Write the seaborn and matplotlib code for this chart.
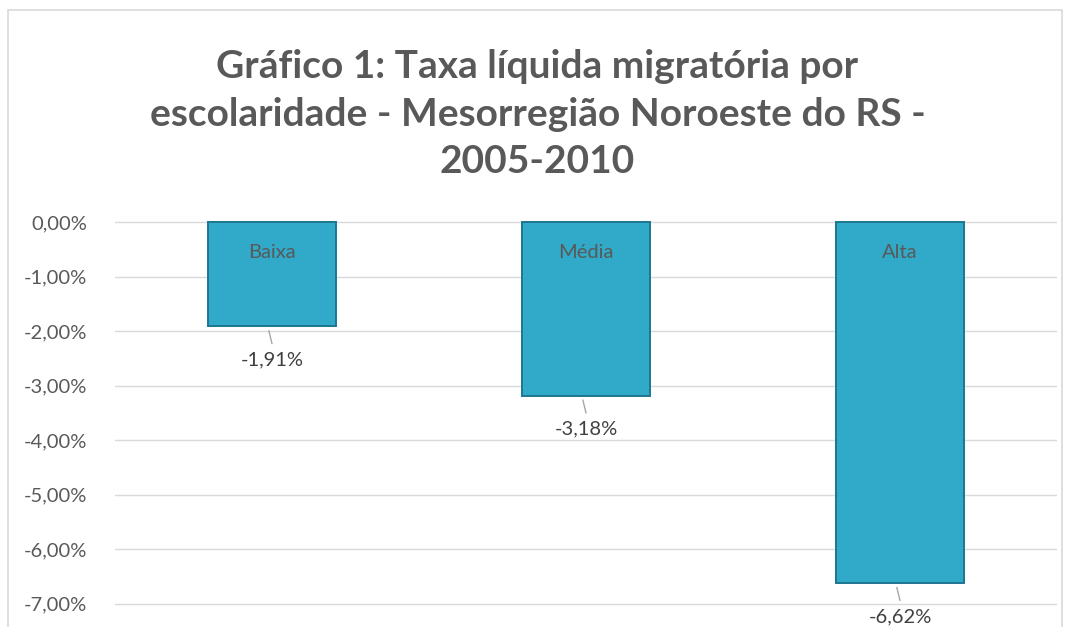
import pandas as pd
import seaborn as sns
import matplotlib.pyplot as plt
from matplotlib.patches import Rectangle
from matplotlib.ticker import FuncFormatter

categorias = ["Baixa", "Média", "Alta"]
taxas = [-1.91, -3.18, -6.62]
rotulos = ["-1,91%", "-3,18%", "-6,62%"]

df = pd.DataFrame({"escolaridade": categorias, "taxa": taxas})

sns.set_style("white")
plt.rcParams["font.family"] = ["Lato", "DejaVu Sans"]

fig = plt.figure(figsize=(10.75, 6.27), dpi=100)
ax = fig.add_axes([115 / 1075, 1 - 606 / 627, 942 / 1075, (606 - 220) / 627])

sns.barplot(data=df, x="escolaridade", y="taxa", color="#31a9c8", width=0.405,
            saturation=1, edgecolor="#1d7690", linewidth=1.4, ax=ax, zorder=3)

ax.set_ylim(-7.04, 0.04)
ax.set_xlim(-0.5, 2.5)
ax.set_yticks([0, -1, -2, -3, -4, -5, -6, -7])
ax.yaxis.set_major_formatter(FuncFormatter(lambda v, p: f"{v:.2f}%".replace(".", ",")))
ax.tick_params(axis="y", labelsize=14.5, labelcolor="#595959", length=0, pad=20)
ax.set_xticks([])
ax.set_xlabel("")
ax.set_ylabel("")
ax.grid(axis="y", color="#d9d9d9", linewidth=1, zorder=0)
for s in ax.spines.values():
    s.set_visible(False)

for i, (cat, val, lab) in enumerate(zip(categorias, taxas, rotulos)):
    ax.text(i, -0.55, cat, ha="center", va="center", fontsize=14.5, color="#595959", zorder=5)
    ax.plot([i - 0.01, i], [val - 0.08, val - 0.32], color="#a6a6a6", linewidth=1, zorder=4, clip_on=False)
    ax.text(i, val - 0.62, lab, ha="center", va="center", fontsize=14.5, color="#404040", clip_on=False)

fig.text(0.5, 1 - 114 / 627, "Gráfico 1: Taxa líquida migratória por\nescolaridade - Mesorregião Noroeste do RS -\n2005-2010",
         ha="center", va="center", fontsize=28, fontweight="bold", color="#595959", linespacing=1.42)

fig.patches.append(Rectangle((8 / 1075, -0.05), 1054 / 1075, 1.05 - 10 / 627, transform=fig.transFigure,
                             fill=False, edgecolor="#d9d9d9", linewidth=1.2))

fig.savefig("out.png", dpi=100)
